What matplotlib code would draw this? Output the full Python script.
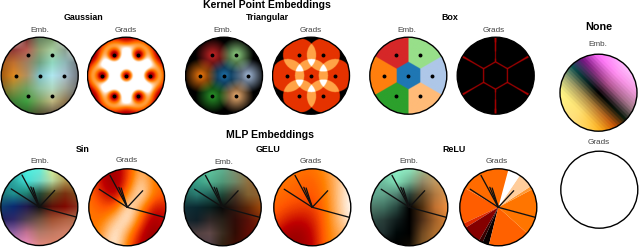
import numpy as np
import matplotlib
matplotlib.use("Agg")
import matplotlib.pyplot as plt
from matplotlib.colors import to_rgb
from matplotlib.patches import Circle

plt.rcParams['font.family'] = ['Liberation Sans', 'DejaVu Sans']
W, H = 640, 248

# ---- data ----
kernel_x = [0.0, 0.62, 0.31, -0.31, -0.62, -0.31, 0.31]
kernel_y = [0.0, 0.0, 0.535, 0.535, 0.0, -0.535, -0.535]
kernel_colors = ['#1f77b4', '#aec7e8', '#98df8a', '#d62728', '#ff7f0e', '#2ca02c', '#ffbb78']

ray_x = [0.96, -0.73, -0.45, -0.22, -0.16, 0.40]
ray_y = [-0.26, 0.47, 0.83, 0.52, 0.50, 0.43]

gauss_emb = [
 ['#ffffff', '#ffffff', '#703030', '#608060', '#709060', '#ffffff', '#ffffff'],
 ['#803838', '#903a38', '#b85a50', '#90a070', '#a8d0a0', '#8aa090', '#ffffff'],
 ['#a05818', '#c07030', '#a08060', '#70a080', '#90d8c0', '#90b8b8', '#707880'],
 ['#a05810', '#e08a20', '#b09060', '#80c0c8', '#b0e8f0', '#a8c0d0', '#707880'],
 ['#806020', '#909040', '#70a060', '#90c0a0', '#b0d8c0', '#a0a898', '#707070'],
 ['#306020', '#408038', '#40a040', '#80a060', '#c0b880', '#907850', '#505050'],
 ['#ffffff', '#306028', '#306028', '#505030', '#605040', '#605040', '#ffffff'],
]
sin_emb = [
 ['#30a0a0', '#30c0c0', '#50f0e0', '#60f0e0', '#e0f090', '#c0b060', '#ffffff'],
 ['#2090a0', '#2fa8a0', '#40e0d8', '#70d8c8', '#b8d8a0', '#b09850', '#a08040'],
 ['#207878', '#1f9090', '#208070', '#204838', '#605020', '#7a3010', '#805020'],
 ['#104070', '#0a2a70', '#201a50', '#101010', '#601008', '#800800', '#8a3020'],
 ['#202060', '#302868', '#504050', '#705040', '#a05030', '#b06040', '#b07050'],
 ['#8060a0', '#9060a0', '#c07090', '#b07868', '#c07860', '#d08068', '#d08068'],
 ['#ffffff', '#e090c0', '#f090c0', '#e08880', '#e08870', '#e08870', '#ffffff'],
]
gelu_emb = [
 ['#40a090', '#50b898', '#60c8a0', '#60b090', '#809070', '#907850', '#907040'],
 ['#309080', '#38a088', '#50b090', '#509878', '#708868', '#907040', '#905830'],
 ['#206058', '#2a7a70', '#206058', '#204838', '#483828', '#806030', '#906030'],
 ['#103038', '#0a2830', '#0a2020', '#080808', '#301810', '#602808', '#a04808'],
 ['#182830', '#102028', '#302828', '#282018', '#300c08', '#581008', '#802808'],
 ['#403840', '#504040', '#604848', '#3a2c20', '#300c04', '#600c04', '#601004'],
 ['#403840', '#504048', '#504048', '#302010', '#400e04', '#500c04', '#601004'],
]
relu_emb = [
 ['#70d0b0', '#80e0b8', '#90f0c8', '#90e8c0', '#a0c090', '#c0a060', '#d09850'],
 ['#60b8a0', '#70c0a0', '#80e0b8', '#70b090', '#908868', '#c09860', '#d09850'],
 ['#60a890', '#60a088', '#508070', '#284038', '#604828', '#b07840', '#e09850'],
 ['#507868', '#407060', '#284840', '#000000', '#503010', '#c07030', '#f09040'],
 ['#305048', '#283c38', '#101c1c', '#000000', '#503018', '#a06028', '#e08838'],
 ['#203030', '#203030', '#000808', '#000000', '#704820', '#b07030', '#c07830'],
 ['#203030', '#000000', '#000000', '#100c04', '#805828', '#b07030', '#c07830'],
]
sin_grads = [
 [.70, .50, .40, .62, .88, .72, .70],
 [.70, .50, .36, .65, .95, .72, .70],
 [.72, .58, .45, .80, 1.0, .72, .68],
 [.74, .66, .68, 1.0, .82, .52, .55],
 [.74, .72, .90, 1.0, .68, .40, .55],
 [.68, .80, 1.0, .82, .52, .35, .55],
 [.68, .85, 1.0, .72, .45, .38, .55],
]
gelu_grads = [
 [.75, .75, .72, .72, .78, .88, .95],
 [.72, .72, .70, .68, .75, .88, .98],
 [.72, .70, .68, .66, .74, .88, 1.0],
 [.70, .65, .62, .62, .72, .88, 1.0],
 [.65, .55, .50, .55, .72, .86, .98],
 [.55, .42, .40, .50, .72, .82, .90],
 [.50, .40, .40, .48, .72, .80, .90],
]
relu_sizes = [43, 5, 23, 19, 75, 55, 7, 28, 6, 10, 62, 27]
relu_vals = [.73, .80, .90, 1.0, .71, .68, .58, .35, .15, .02, .69, .73]

none_u = [1.0, .67, .33, 0.0, -.33, -.67, -1.0]
none_v = [-1.0, 0.0, 1.0]
none_emb = [
 ['#ff80ff', '#ffc0ff', '#ffc8ff'],
 ['#ff60ff', '#ff90f0', '#e8a0d0'],
 ['#700a80', '#b05090', '#a08088'],
 ['#105858', '#000000', '#102010'],
 ['#a0b080', '#b08840', '#d05000'],
 ['#ffff90', '#ffe070', '#ffa000'],
 ['#ffff90', '#ffe080', '#ffd040'],
]

# ---- layout helpers ----
fig = plt.figure(figsize=(W / 100, H / 100), dpi=100)
cmap = plt.get_cmap('gist_heat')
R = 38.5
n = 320
xs = np.linspace(-1, 1, n)
X, Y = np.meshgrid(xs, xs[::-1])
KX = np.array(kernel_x)[:, None, None]
KY = np.array(kernel_y)[:, None, None]
D = np.sqrt((X - KX) ** 2 + (Y - KY) ** 2)
KC = np.array([to_rgb(c) for c in kernel_colors])


def disk(cx, cy, r=R):
    ax = fig.add_axes([(cx - r - 1) / W, 1 - (cy + r + 1) / H, (2 * r + 2) / W, (2 * r + 2) / H])
    ax.axis('off')
    return ax


def finish(ax, im=None):
    ax.add_patch(Circle((0, 0), 1, fc='none', ec='black', lw=1.0, zorder=6))
    if im is not None:
        im.set_clip_path(Circle((0, 0), 1, transform=ax.transData))
    ax.set_xlim(-1.026, 1.026)
    ax.set_ylim(-1.026, 1.026)


def grid_rgb(ax, table):
    arr = np.array([[to_rgb(c) for c in row] for row in table])
    h = 2 / (arr.shape[0] - 1)
    im = ax.imshow(arr, extent=[-1 - h / 2, 1 + h / 2, -1 - h / 2, 1 + h / 2],
                   interpolation='bilinear', aspect='auto')
    finish(ax, im)


def grid_val(ax, table):
    arr = np.array(table)
    h = 2 / (arr.shape[0] - 1)
    im = ax.imshow(arr, extent=[-1 - h / 2, 1 + h / 2, -1 - h / 2, 1 + h / 2], cmap=cmap,
                   vmin=0, vmax=1, interpolation='bicubic', aspect='auto')
    finish(ax, im)


def field(ax, arr, **kw):
    im = ax.imshow(arr, extent=[-1, 1, -1, 1], interpolation='bilinear', aspect='auto', **kw)
    finish(ax, im)


def dots(ax):
    ax.scatter(kernel_x, kernel_y, s=8, c='black', lw=0, zorder=5)


def rays(ax):
    for x, y in zip(ray_x, ray_y):
        ax.plot([0, x], [0, y], color='#111111', lw=0.95, solid_capstyle='round', zorder=5)


# ---- Gaussian ----
a = disk(39.7, 75.7)
grid_rgb(a, gauss_emb); dots(a)
a = disk(126, 75.7)
sig = 0.25
k = np.exp(-D ** 2 / (2 * sig ** 2))
gm = ((k * D / sig ** 2) ** 2).sum(0) / 12.0
field(a, np.clip(0.36 + 0.9 * gm, 0, 1), cmap=cmap, vmin=0, vmax=1); dots(a)

# ---- Triangular ----
a = disk(224, 75.7)
tri = np.clip(1 - D / 0.45, 0, 1)
field(a, np.clip((tri[:, :, :, None] * KC[:, None, None, :]).sum(0) * 0.95, 0, 1)); dots(a)
a = disk(311, 75.7)
count = (D < 0.43).sum(0)
levels = np.array([0.0, 0.60, 0.82, 1.0, 1.0])
field(a, levels[np.clip(count, 0, 4)], cmap=cmap, vmin=0, vmax=1); dots(a)

# ---- Box ----
a = disk(408.3, 75.7)
idx = D.argmin(0)
field(a, KC[idx]); dots(a)
a = disk(495.7, 75.7)
ds = np.sort(D, axis=0)
field(a, np.where(ds[1] - ds[0] < 0.03, 0.45, 0.0), cmap=cmap, vmin=0, vmax=1)

# ---- None ----
a = disk(598.5, 92.7)
U = (X + Y) / np.sqrt(2)
V = (X - Y) / np.sqrt(2)
U = np.round(U * 14) / 14
nt = np.array([[to_rgb(c) for c in row] for row in none_emb])
iu = np.clip(np.interp(U, none_u[::-1], np.arange(len(none_u))[::-1]), 0, len(none_u) - 1.001)
iu = len(none_u) - 1 - iu if False else iu
iv = np.clip(np.interp(V, none_v, np.arange(len(none_v))), 0, len(none_v) - 1.001)
u0, v0 = iu.astype(int), iv.astype(int)
fu, fv = (iu - u0)[..., None], (iv - v0)[..., None]
rgb = (nt[u0, v0] * (1 - fu) * (1 - fv) + nt[u0 + 1, v0] * fu * (1 - fv)
       + nt[u0, v0 + 1] * (1 - fu) * fv + nt[u0 + 1, v0 + 1] * fu * fv)
field(a, rgb)
a = disk(599.3, 189.7)
finish(a)

# ---- MLP ----
a = disk(39.3, 207); grid_rgb(a, sin_emb); rays(a)
a = disk(127.3, 207.3); grid_val(a, sin_grads); rays(a)
a = disk(222.7, 207.3); grid_rgb(a, gelu_emb); rays(a)
a = disk(312.3, 207.3); grid_val(a, gelu_grads); rays(a)
a = disk(409.3, 207.3); grid_rgb(a, relu_emb); rays(a)
a = disk(498.3, 207.3)
a.pie(relu_sizes, colors=[cmap(v) for v in relu_vals], startangle=-15, radius=1,
      wedgeprops=dict(linewidth=0))
rays(a)
finish(a)


# ---- text ----
def T(x, y, s, size, bold=False, color='black'):
    fig.text(x / W, 1 - y / H, s, ha='center', va='center', fontsize=size,
             fontweight='bold' if bold else 'normal', color=color)


T(267, 4.8, 'Kernel Point Embeddings', 7.6, True)
T(270, 135.5, 'MLP Embeddings', 7.6, True)
for x, y, s in [(83, 18, 'Gaussian'), (267, 18, 'Triangular'), (450, 18, 'Box'),
                (83, 150, 'Sin'), (268, 150, 'GELU'), (454, 150, 'ReLU')]:
    T(x, y, s, 6.4, True)
T(598.7, 27, 'None', 7.8, True)
for x, y, s in [(39.7, 30, 'Emb.'), (126, 30, 'Grads'), (223, 30, 'Emb.'), (311, 30, 'Grads'),
                (406.5, 30, 'Emb.'), (494, 30, 'Grads'), (598.3, 44.7, 'Emb.'), (598.3, 142.5, 'Grads'),
                (39.5, 161.5, 'Emb.'), (127, 160, 'Grads'), (223.5, 162.5, 'Emb.'), (311, 161.5, 'Grads'),
                (408.8, 161.5, 'Emb.'), (496.5, 161.5, 'Grads')]:
    T(x, y, s, 5.9, False, '#444444')

fig.savefig('out.png', dpi=100)
